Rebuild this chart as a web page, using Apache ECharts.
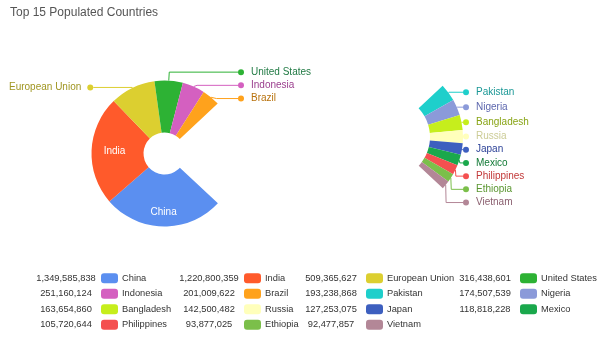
<!DOCTYPE html>
<html>
<head>
<meta charset="utf-8">
<script src="https://cdn.jsdelivr.net/npm/echarts/dist/echarts.min.js"></script>
<style>html,body{margin:0;padding:0;background:#fff}#chart{width:604px;height:338px}</style>
</head>
<body>
<div id="chart"></div>
<script>
const countries = ['China','India','European Union','United States','Indonesia','Brazil','Pakistan','Nigeria','Bangladesh','Russia','Japan','Mexico','Philippines','Ethiopia','Vietnam'];
const populations = [1349585838,1220800359,509365627,316438601,251160124,201009622,193238868,174507539,163654860,142500482,127253075,118818228,105720644,93877025,92477857];
const firstPieCount = 6;
const insideLabelNames = ['China','India'];
const leftLabelNames = ['European Union'];
const titleText = 'Top 15 Populated Countries';

const sliceColors = ['#5b8ff0','#ff5a2b','#dccf30','#2db234','#d460c0','#ffa21c','#1ecfcb','#8b9ad9','#c6ee1c','#ffffbb','#3d5fbf','#1aa84c','#f45050','#7bbf4a','#b38797'];
const labelColors = ['#ffffff','#ffffff','#a09622','#217a44','#9b3f8e','#b8720d','#1a9896','#5d67ae','#88a414','#cccc96','#293f96','#127a36','#c23838','#5a9630','#8a5e6e'];
const legendValueRight = [97, 240, 362, 516];
const FONT = 'Liberation Sans, Arial, sans-serif';
const LABEL_LH = 11.2;

const fmt = n => n.toLocaleString('en-US');

function hiddenItem(name, value) {
  return { name, value, itemStyle: { color: 'rgba(0,0,0,0)' }, label: { show: false }, labelLine: { show: false }, emphasis: { disabled: true } };
}

// outside label: coloured dot at the end of the label line, then the name
function outsideLabel(i, isLeft, len, edgeDist) {
  const rich = {
    d: { width: 6, height: 6, borderRadius: 3, backgroundColor: sliceColors[i], align: 'left', lineHeight: LABEL_LH },
    g: { width: isLeft ? 6 : 7, align: 'left', lineHeight: LABEL_LH, height: 6 },
    t: { fontSize: 10, color: labelColors[i], fontFamily: FONT, lineHeight: LABEL_LH, height: LABEL_LH, align: 'left', width: isLeft ? null : 70 }
  };
  const label = {
    show: true, position: 'outside', alignTo: 'edge', edgeDistance: edgeDist, distanceToLabelLine: 0,
    formatter: isLeft ? '{t|{b}}{g|}{d|}' : '{d|}{g|}{t|{b}}',
    rich, fontSize: 8, lineHeight: LABEL_LH, overflow: 'none'
  };
  if (!isLeft) label.width = 83;
  return {
    label,
    labelLine: { show: true, length: len, length2: 3, lineStyle: { color: sliceColors[i], width: 1 } }
  };
}

const pie1Data = countries.map((name, i) => {
  const value = populations[i];
  if (i >= firstPieCount) return hiddenItem(name, value);
  const item = { name, value, itemStyle: { color: sliceColors[i] } };
  if (insideLabelNames.includes(name)) {
    item.label = { show: true, position: 'inside', color: '#fff', fontSize: 10, fontFamily: FONT,
      formatter: name === 'China' ? '\n{b}' : '{b}', lineHeight: name === 'China' ? 18 : 12 };
    item.labelLine = { show: false };
  } else {
    const isLeft = leftLabelNames.includes(name);
    Object.assign(item, outsideLabel(i, isLeft, isLeft ? 0.5 : 8.5, isLeft ? 9 : 604 - 238 - 83));
  }
  return item;
});

const pie2Data = countries.map((name, i) => {
  const value = populations[i];
  if (i < firstPieCount) return hiddenItem(name, value);
  return Object.assign({ name, value, itemStyle: { color: sliceColors[i] } }, outsideLabel(i, false, 0.5, 604 - 463 - 83));
});

const legendRich = {
  v: { width: 62, align: 'right', fontSize: 9.3, color: '#333', fontFamily: FONT, lineHeight: 15.5 },
  g: { width: 4 },
  n: { fontSize: 9.3, color: '#333', fontFamily: FONT, lineHeight: 15.5 }
};
sliceColors.forEach((c, i) => { legendRich['b' + i] = { width: 17, height: 10, borderRadius: 3, backgroundColor: c }; });

const legends = [0, 1, 2, 3].map(col => ({
  orient: 'vertical', left: legendValueRight[col] - 62 - 5, top: 270.5, padding: 0, itemGap: 0,
  itemWidth: 0, itemHeight: 10, icon: 'none', selectedMode: false,
  data: countries.filter((_, i) => i % 4 === col),
  formatter: name => {
    const i = countries.indexOf(name);
    return '{v|' + fmt(populations[i]) + '}{g|}{b' + i + '|}{g|}{n|' + name + '}';
  },
  textStyle: { fontSize: 9.3, color: '#333', fontFamily: FONT, lineHeight: 15.5, rich: legendRich }
}));

const chart = echarts.init(document.getElementById('chart'), null, { renderer: 'canvas' });
chart.setOption({
  animation: false,
  backgroundColor: '#fff',
  textStyle: { fontFamily: FONT },
  title: { text: titleText, left: 10, top: 7, padding: 0,
    textStyle: { fontSize: 12, fontWeight: 'normal', color: '#555', fontFamily: FONT } },
  legend: legends,
  series: [
    { type: 'pie', center: [164.5, 153.5], radius: [21, 73], startAngle: -43, clockwise: true,
      avoidLabelOverlap: true, data: pie1Data, emphasis: { disabled: true } },
    { type: 'pie', center: [388, 137], radius: [42, 75], startAngle: -43, clockwise: true,
      avoidLabelOverlap: true, data: pie2Data, emphasis: { disabled: true } }
  ]
});
</script>
</body>
</html>
